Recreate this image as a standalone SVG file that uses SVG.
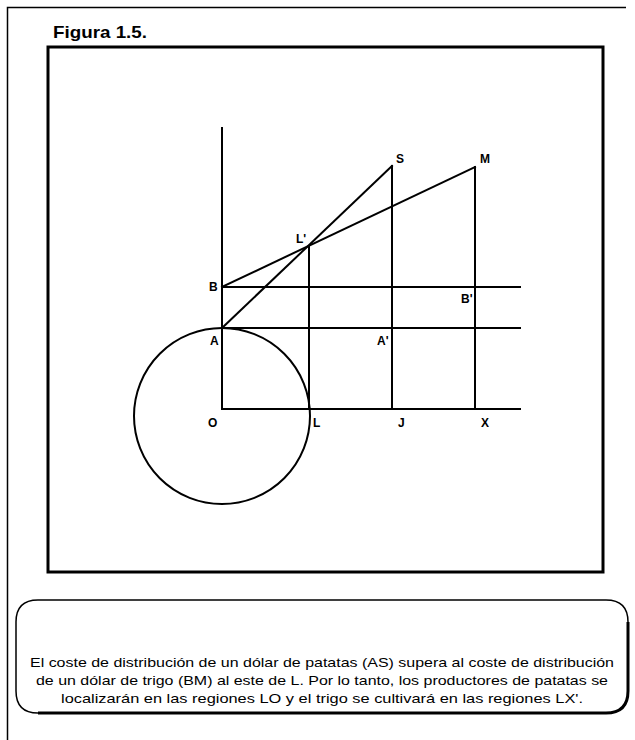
<svg xmlns="http://www.w3.org/2000/svg" width="635" height="740" viewBox="0 0 635 740">
<style>
.ln{stroke:#000;stroke-width:2;fill:none;stroke-linecap:square}
.lb{font-family:"Liberation Sans",Arial,sans-serif;font-weight:bold;font-size:12px;fill:#000}
.tx{font-family:"Liberation Sans",Arial,sans-serif;font-size:13.5px;fill:#000}
</style>
<rect width="635" height="740" fill="#fff"/>
<g id="frame">
<path d="M7.5 740 V7.5 H626" fill="none" stroke="#000" stroke-width="1.5"/>
<text x="53" y="38" font-family="Liberation Sans,Arial,sans-serif" font-weight="bold" font-size="17" textLength="94" lengthAdjust="spacingAndGlyphs">Figura 1.5.</text>
<rect x="48" y="47" width="555" height="525" fill="none" stroke="#000" stroke-width="3"/>
</g>
<g id="connectors">
<line class="ln" x1="222" y1="128" x2="222" y2="409"/>
<line class="ln" x1="222" y1="409" x2="520" y2="409"/>
<line class="ln" x1="222" y1="328" x2="520" y2="328"/>
<line class="ln" x1="222" y1="287" x2="520" y2="287"/>
<line class="ln" x1="309" y1="246" x2="309" y2="409"/>
<line class="ln" x1="392" y1="166" x2="392" y2="409"/>
<line class="ln" x1="475" y1="167" x2="475" y2="409"/>
<line class="ln" x1="222" y1="328" x2="392" y2="166"/>
<line class="ln" x1="222" y1="287" x2="475" y2="167"/>
<circle class="ln" cx="222" cy="416" r="88"/>
</g>
<g id="labels">
<text class="lb" x="209" y="291">B</text>
<text class="lb" x="210" y="345">A</text>
<text class="lb" x="208" y="427">O</text>
<text class="lb" x="313" y="427">L</text>
<text class="lb" x="398" y="427">J</text>
<text class="lb" x="481" y="427">X</text>
<text class="lb" x="396" y="163">S</text>
<text class="lb" x="480" y="163">M</text>
<text class="lb" x="296" y="243">L'</text>
<text class="lb" x="461" y="303">B'</text>
<text class="lb" x="377" y="345">A'</text>
</g>
<g id="caption">
<path d="M38 600 H606 Q628 600 628 622 V691 Q628 713 606 713 H38 Q16 713 16 691 V622 Q16 600 38 600 Z" fill="none" stroke="#000" stroke-width="1.5"/>
<path d="M628 622 V691 Q628 713 606 713 H38" fill="none" stroke="#000" stroke-width="3"/>
<text class="tx" x="322" y="667" text-anchor="middle" textLength="584" lengthAdjust="spacingAndGlyphs">El coste de distribución de un dólar de patatas (AS) supera al coste de distribución</text>
<text class="tx" x="322" y="685" text-anchor="middle" textLength="572" lengthAdjust="spacingAndGlyphs">de un dólar de trigo (BM)  al este de L. Por lo tanto, los productores de patatas se</text>
<text class="tx" x="322" y="703" text-anchor="middle" textLength="522" lengthAdjust="spacingAndGlyphs">localizarán en las regiones LO y el trigo se cultivará en las regiones LX'.</text>
</g>
</svg>
